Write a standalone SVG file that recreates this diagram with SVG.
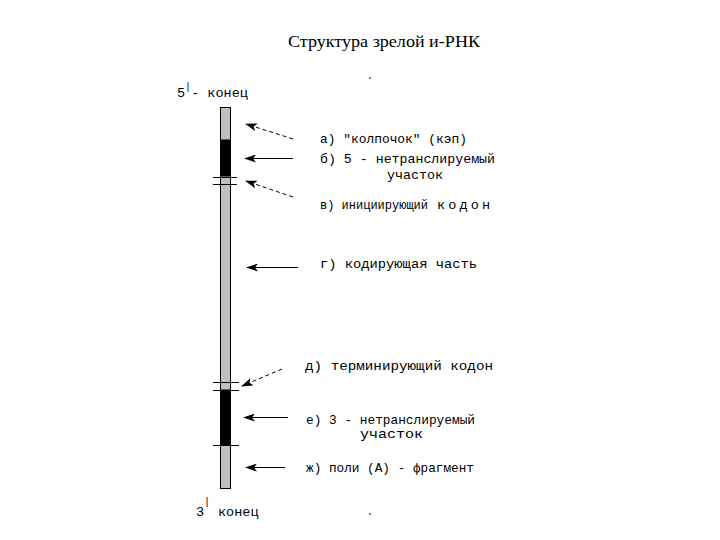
<svg xmlns="http://www.w3.org/2000/svg" width="720" height="540" viewBox="0 0 720 540">
<defs>
<marker id="ah" markerWidth="12" markerHeight="8" refX="11" refY="4" orient="auto" markerUnits="userSpaceOnUse">
<path d="M12,4 L0,0 L3,4 L0,8 Z" fill="#000"/>
</marker>
</defs>
<style>
.lbl{font-family:"Liberation Mono","DejaVu Sans Mono",monospace;font-size:13.5px;fill:#000}
.ttl{font-family:"Liberation Serif","Times New Roman",serif;font-size:17px;fill:#000}
.sol{stroke:#000;stroke-width:1;fill:none}
.dash{stroke:#000;stroke-width:1;fill:none;stroke-dasharray:4 3}
.tick{stroke:#000;stroke-width:1}
.grey{fill:#c0c0c0;stroke:#000;stroke-width:1}
.blk{fill:#000;stroke:#000;stroke-width:1}
</style>
<rect width="720" height="540" fill="#fff"/>
<text class="ttl" x="288" y="47" textLength="192" lengthAdjust="spacingAndGlyphs">Структура зрелой и-РНК</text>
<circle cx="370" cy="78" r="1" fill="#555"/>
<circle cx="370" cy="514" r="1" fill="#555"/>

<g id="end5">
<text class="lbl" x="177" y="97">5<tspan dy="-7" style="font-size:10px">|</tspan><tspan dy="7">- конец</tspan></text>
</g>
<g id="end3">
<text class="lbl" x="196" y="516">3<tspan dy="-11" style="font-size:10px">|</tspan><tspan x="218" dy="11">конец</tspan></text>
</g>

<g id="mrna">
<rect class="grey" x="220.5" y="107.5" width="10" height="381"/>
<rect class="blk" x="220.5" y="140" width="10" height="36"/>
<rect class="blk" x="220.5" y="390" width="10" height="55"/>
<line class="tick" x1="213" y1="177.5" x2="237" y2="177.5"/>
<line class="tick" x1="213" y1="184.5" x2="237" y2="184.5"/>
<line class="tick" x1="213" y1="382.5" x2="239" y2="382.5"/>
<line class="tick" x1="213" y1="390.5" x2="239" y2="390.5"/>
<line class="tick" x1="213" y1="445.5" x2="239" y2="445.5"/>
</g>

<g id="connectors">
<line class="dash" x1="293" y1="139" x2="246" y2="124" marker-end="url(#ah)"/>
<line class="sol" x1="293" y1="158.5" x2="245" y2="158.5" marker-end="url(#ah)"/>
<line class="dash" x1="293" y1="197" x2="246" y2="181" marker-end="url(#ah)"/>
<line class="sol" x1="298" y1="267.5" x2="247" y2="267.5" marker-end="url(#ah)"/>
<line class="dash" x1="282" y1="369" x2="242" y2="386" marker-end="url(#ah)"/>
<line class="sol" x1="288" y1="417.5" x2="244" y2="417.5" marker-end="url(#ah)"/>
<line class="sol" x1="285" y1="467.5" x2="246" y2="467.5" marker-end="url(#ah)"/>
</g>

<g id="label-a"><text class="lbl" x="320" y="143" textLength="147" lengthAdjust="spacingAndGlyphs">а) "колпочок" (кэп)</text></g>
<g id="label-b">
<text class="lbl" x="320" y="163" textLength="175" lengthAdjust="spacingAndGlyphs">б) 5 - нетранслируемый</text>
<text class="lbl" x="387" y="179" textLength="56" lengthAdjust="spacingAndGlyphs">участок</text>
</g>
<g id="label-v">
<text class="lbl" x="320" y="209" textLength="108" lengthAdjust="spacingAndGlyphs">в) инициирующий</text>
<text class="lbl" x="437" y="209" textLength="53" lengthAdjust="spacing">кодон</text>
</g>
<g id="label-g"><text class="lbl" x="320" y="268" textLength="157" lengthAdjust="spacingAndGlyphs">г) кодирующая часть</text></g>
<g id="label-d"><text class="lbl" x="305" y="370" textLength="188" lengthAdjust="spacingAndGlyphs">д) терминирующий кодон</text></g>
<g id="label-e">
<text class="lbl" x="306" y="424" textLength="169" lengthAdjust="spacingAndGlyphs">е) 3 - нетранслируемый</text>
<text class="lbl" x="360" y="438" textLength="63" lengthAdjust="spacingAndGlyphs">участок</text>
</g>
<g id="label-zh"><text class="lbl" x="306" y="472" textLength="168" lengthAdjust="spacingAndGlyphs">ж) поли (А) - фрагмент</text></g>
</svg>
